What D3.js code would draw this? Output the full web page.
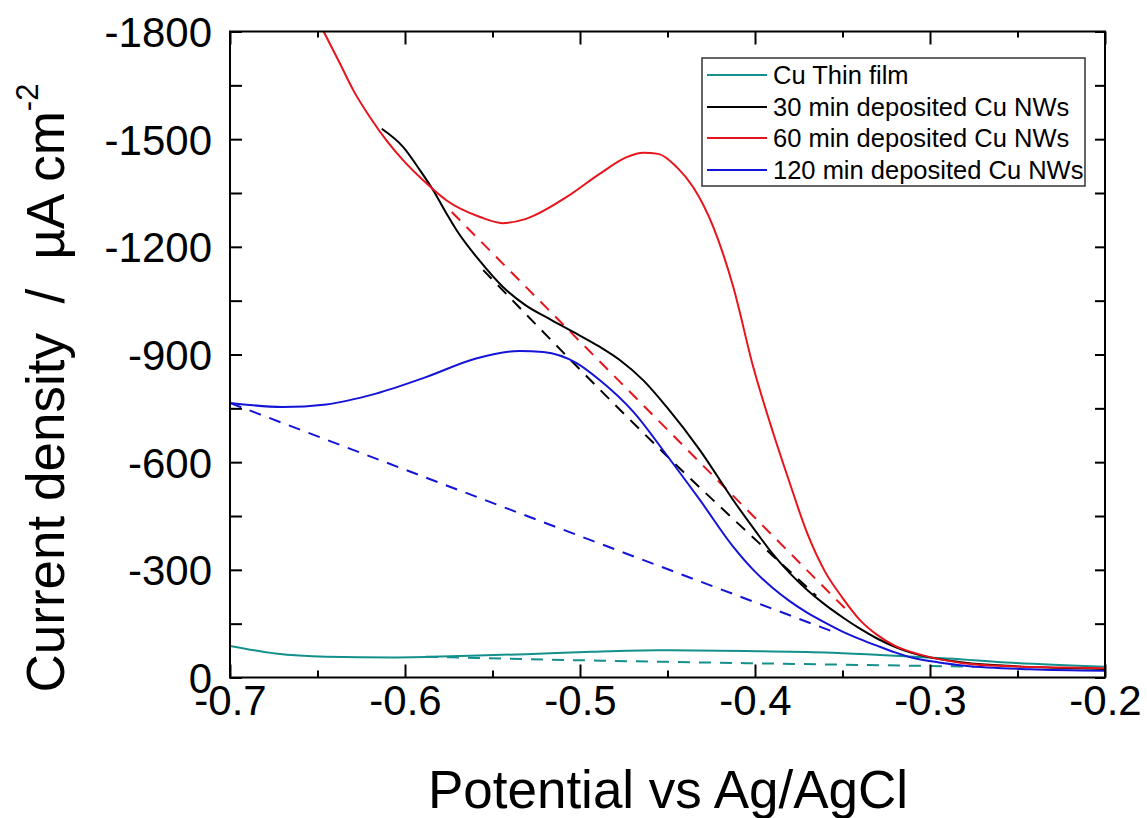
<!doctype html>
<html>
<head>
<meta charset="utf-8">
<title>Current density vs potential</title>
<script src="https://cdnjs.cloudflare.com/ajax/libs/d3/7.8.5/d3.min.js"></script>
<style>
  body { margin: 0; background: #fff; }
  svg text { font-family: "Liberation Sans", Arial, sans-serif; fill: #000; }
</style>
</head>
<body>
<svg width="1147" height="818"></svg>
<script>
// ---- data (potential in V, current density in uA cm-2) ----
var xTicks = [-0.7, -0.6, -0.5, -0.4, -0.3, -0.2];
var yTicks = [0, -300, -600, -900, -1200, -1500, -1800];

var seriesNames = ["Cu Thin film", "30 min deposited Cu NWs", "60 min deposited Cu NWs", "120 min deposited Cu NWs"];
var seriesColors = ["#14908c", "#000000", "#e8141c", "#1414d8"];

var thinFilm = [[-0.7, -88], [-0.674, -67], [-0.645, -58], [-0.607, -56], [-0.569, -60], [-0.531, -65],
  [-0.493, -72], [-0.455, -76], [-0.405, -74], [-0.36, -70], [-0.329, -63], [-0.29, -53], [-0.253, -41], [-0.2, -30]];
var thinFilmBase = [[-0.588, -58], [-0.5, -48], [-0.405, -40], [-0.3, -32], [-0.275, -30]];

var nw30 = [[-0.6133, -1529], [-0.601, -1478], [-0.5914, -1413], [-0.5838, -1357], [-0.5762, -1292],
  [-0.5705, -1246], [-0.5575, -1162], [-0.544, -1088], [-0.531, -1037], [-0.517, -998], [-0.502, -958],
  [-0.4886, -921], [-0.4771, -884], [-0.4638, -828], [-0.4505, -754], [-0.4314, -633], [-0.4124, -494],
  [-0.40, -410], [-0.39, -345], [-0.38, -290], [-0.37, -243], [-0.36, -203], [-0.35, -168], [-0.34, -136],
  [-0.33, -108], [-0.31, -68], [-0.281, -42], [-0.25, -31], [-0.2, -24]];
var nw30Base = [[-0.5553, -1135], [-0.4505, -618], [-0.365, -228]];

var nw60 = [[-0.6465, -1800], [-0.6371, -1710], [-0.6295, -1636], [-0.62, -1561], [-0.6105, -1496],
  [-0.601, -1441], [-0.5895, -1385], [-0.5762, -1329], [-0.5571, -1283], [-0.5442, -1266], [-0.5309, -1278],
  [-0.5076, -1339], [-0.4886, -1404], [-0.4733, -1450], [-0.4638, -1462], [-0.4553, -1459], [-0.4447, -1422],
  [-0.4353, -1366], [-0.4238, -1255], [-0.4124, -1088], [-0.401, -865], [-0.3895, -680], [-0.38, -540],
  [-0.37, -400], [-0.36, -295], [-0.35, -222], [-0.34, -160], [-0.33, -118], [-0.32, -88], [-0.305, -63],
  [-0.281, -40], [-0.2526, -31], [-0.224, -28], [-0.2, -26]];
var nw60Base = [[-0.5733, -1297], [-0.4648, -763], [-0.345, -175]];

var nw120 = [[-0.7, -765], [-0.67, -754], [-0.645, -761], [-0.6166, -791], [-0.588, -837], [-0.5594, -889],
  [-0.5347, -910], [-0.521, -907], [-0.5019, -876], [-0.4886, -828], [-0.4695, -740], [-0.4505, -620],
  [-0.4314, -494], [-0.4124, -364], [-0.40, -295], [-0.39, -250], [-0.38, -212], [-0.37, -180],
  [-0.36, -153], [-0.35, -128], [-0.34, -107], [-0.33, -88], [-0.32, -70], [-0.31, -55], [-0.295, -42],
  [-0.28, -33], [-0.2429, -23], [-0.2, -19]];
var nw120Base = [[-0.7, -765], [-0.5438, -475], [-0.355, -127]];

// ---- layout ----
var svg = d3.select("svg");
var plotLeft = 230, plotRight = 1105, plotTop = 31.5, plotBottom = 677.5;

var x = d3.scaleLinear().domain([-0.7, -0.2]).range([plotLeft, plotRight]);
var y = d3.scaleLinear().domain([0, -1800]).range([plotBottom, plotTop]);

svg.append("clipPath").attr("id", "plotClip")
  .append("rect").attr("x", plotLeft).attr("y", plotTop)
  .attr("width", plotRight - plotLeft).attr("height", plotBottom - plotTop);

var line = d3.line()
  .x(function (d) { return x(d[0]); })
  .y(function (d) { return y(d[1]); })
  .curve(d3.curveMonotoneX);

var plot = svg.append("g").attr("clip-path", "url(#plotClip)");

function draw(data, color, dashed) {
  plot.append("path")
    .datum(data)
    .attr("d", line)
    .attr("fill", "none")
    .attr("stroke", color)
    .attr("stroke-width", 2)
    .attr("stroke-dasharray", dashed ? "12,9" : null);
}

draw(thinFilmBase, seriesColors[0], true);
draw(nw120Base, seriesColors[3], true);
draw(nw60Base, seriesColors[2], true);
draw(nw30Base, seriesColors[1], true);
draw(thinFilm, seriesColors[0], false);
draw(nw120, seriesColors[3], false);
draw(nw30, seriesColors[1], false);
draw(nw60, seriesColors[2], false);

// ---- axes (ticks inward on all four sides) ----
var xMinor = [-0.65, -0.55, -0.45, -0.35, -0.25];
var yMinor = [-150, -450, -750, -1050, -1350, -1650];
var fmtX = function (d) { return d.toFixed(1); };
var fmtY = function (d) { return String(d); };

function tickStyle(g) {
  g.select(".domain").remove();
  g.selectAll("line").attr("stroke", "#000").attr("stroke-width", 2);
}

svg.append("g").attr("transform", "translate(0," + plotBottom + ")")
  .call(d3.axisBottom(x).tickValues(xTicks).tickSizeInner(-13).tickSizeOuter(0).tickFormat(fmtX))
  .call(tickStyle)
  .call(function (g) {
    g.selectAll("text").attr("font-size", 42).attr("y", 0).attr("dy", "0.9em")
      .attr("font-family", "Liberation Sans, Arial, sans-serif").attr("fill", "#000");
  });
svg.append("g").attr("transform", "translate(0," + plotBottom + ")")
  .call(d3.axisBottom(x).tickValues(xMinor).tickSizeInner(-7).tickSizeOuter(0).tickFormat(""))
  .call(tickStyle);
svg.append("g").attr("transform", "translate(0," + plotTop + ")")
  .call(d3.axisTop(x).tickValues(xTicks).tickSizeInner(-13).tickSizeOuter(0).tickFormat(""))
  .call(tickStyle);
svg.append("g").attr("transform", "translate(0," + plotTop + ")")
  .call(d3.axisTop(x).tickValues(xMinor).tickSizeInner(-6).tickSizeOuter(0).tickFormat(""))
  .call(tickStyle);

svg.append("g").attr("transform", "translate(" + plotLeft + ",0)")
  .call(d3.axisLeft(y).tickValues(yTicks).tickSizeInner(-12).tickSizeOuter(0).tickPadding(18).tickFormat(fmtY))
  .call(tickStyle)
  .call(function (g) {
    g.selectAll("text").attr("font-size", 42).attr("dy", "0.36em")
      .attr("font-family", "Liberation Sans, Arial, sans-serif").attr("fill", "#000");
  });
svg.append("g").attr("transform", "translate(" + plotLeft + ",0)")
  .call(d3.axisLeft(y).tickValues(yMinor).tickSizeInner(-12).tickSizeOuter(0).tickFormat(""))
  .call(tickStyle);
svg.append("g").attr("transform", "translate(" + plotRight + ",0)")
  .call(d3.axisRight(y).tickValues(yTicks.concat(yMinor)).tickSizeInner(-10).tickSizeOuter(0).tickFormat(""))
  .call(tickStyle);

svg.append("rect")
  .attr("x", plotLeft).attr("y", plotTop)
  .attr("width", plotRight - plotLeft).attr("height", plotBottom - plotTop)
  .attr("fill", "none").attr("stroke", "#000").attr("stroke-width", 2);

// ---- axis titles ----
svg.append("text")
  .attr("x", 668).attr("y", 808)
  .attr("text-anchor", "middle").attr("font-size", 53)
  .text("Potential vs Ag/AgCl");

var yTitle = svg.append("text")
  .attr("transform", "translate(64,388) rotate(-90)")
  .attr("text-anchor", "middle").attr("font-size", 53)
  .style("white-space", "pre");
yTitle.append("tspan").text("Current density  /  \u00b5A cm");
yTitle.append("tspan").attr("font-size", 31).attr("dy", -26).text("-2");

// ---- legend ----
var legend = svg.append("g");
legend.append("rect")
  .attr("x", 702).attr("y", 58).attr("width", 383).attr("height", 128)
  .attr("fill", "#fff").attr("stroke", "#333").attr("stroke-width", 1.5);
var rows = [75, 107, 138, 170];
seriesNames.forEach(function (name, i) {
  legend.append("line")
    .attr("x1", 707).attr("x2", 767).attr("y1", rows[i]).attr("y2", rows[i])
    .attr("stroke", seriesColors[i]).attr("stroke-width", 2);
  legend.append("text")
    .attr("x", 773).attr("y", rows[i] + 9)
    .attr("font-size", 25.5)
    .text(name);
});
</script>
</body>
</html>
